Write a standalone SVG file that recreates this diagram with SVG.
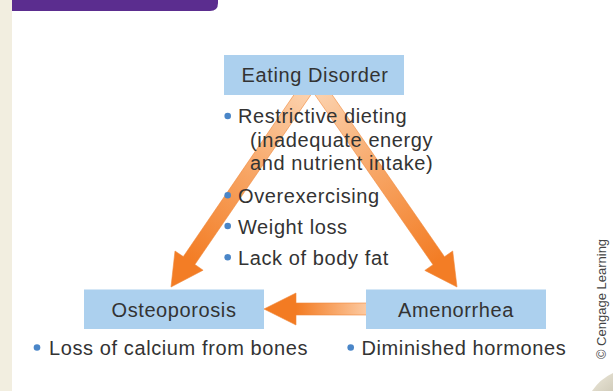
<svg xmlns="http://www.w3.org/2000/svg" width="613" height="391" viewBox="0 0 613 391">
  <style>
    .box { fill: #acd0ee; }
    .lbl { font-family: "Liberation Sans", Arial, sans-serif; font-size: 20px; letter-spacing: 0.6px; fill: #333333; }
    .mid { text-anchor: middle; }
    .dot { fill: #4a86c8; }
    .arrow { stroke: #f0883a; stroke-width: 0.6; }
  </style>
  <defs>
    <linearGradient id="gL" gradientUnits="userSpaceOnUse" x1="305" y1="90" x2="190" y2="260">
      <stop offset="0" stop-color="#fcd2ae"/>
      <stop offset="0.5" stop-color="#f7a463"/>
      <stop offset="1" stop-color="#f37d25"/>
    </linearGradient>
    <linearGradient id="gR" gradientUnits="userSpaceOnUse" x1="320" y1="90" x2="438" y2="260">
      <stop offset="0" stop-color="#fcd2ae"/>
      <stop offset="0.5" stop-color="#f7a463"/>
      <stop offset="1" stop-color="#f37d25"/>
    </linearGradient>
    <linearGradient id="gH" gradientUnits="userSpaceOnUse" x1="366" y1="0" x2="296" y2="0">
      <stop offset="0" stop-color="#fcc9a0"/>
      <stop offset="1" stop-color="#f37b22"/>
    </linearGradient>
    <linearGradient id="curl" x1="0" y1="0" x2="1" y2="1">
      <stop offset="0" stop-color="#ece8da"/>
      <stop offset="1" stop-color="#d2cdbb"/>
    </linearGradient>
  </defs>

  <rect x="0" y="0" width="613" height="391" fill="#ffffff"/>
  <rect x="0" y="0" width="12" height="391" fill="#f2eee0"/>
  <path d="M12 0 H218 V3 Q218 11 210 11 H12 Z" fill="#5b2d8f"/>
  <path d="M592 391 Q600 379 613 373 V391 Z" fill="url(#curl)"/>

  <g id="connectors">
    <polygon class="arrow" fill="url(#gL)" points="299.9,86.1 311.5,93.9 194.9,264.5 203.1,270.2 171,287 175.0,251.0 183.3,256.6"/>
    <polygon class="arrow" fill="url(#gR)" points="326.0,86.0 314.4,94.0 433.0,264.7 424.8,270.4 457,287 452.7,251.0 444.5,256.7"/>
    <polygon class="arrow" fill="url(#gH)" points="372,303 296,303 296,293 264,309 296,325 296,315 372,315"/>
  </g>

  <g id="eating-disorder">
    <rect class="box" x="224" y="55" width="180" height="40"/>
    <text class="lbl mid" x="315" y="82">Eating Disorder</text>
  </g>

  <g id="causes">
    <circle class="dot" cx="227.7" cy="116" r="3.3"/>
    <text class="lbl" x="238" y="123">Restrictive dieting</text>
    <text class="lbl" x="250" y="146.5">(inadequate energy</text>
    <text class="lbl" x="250" y="169.5">and nutrient intake)</text>
    <circle class="dot" cx="227.7" cy="195.3" r="3.3"/>
    <text class="lbl" x="238" y="202.5">Overexercising</text>
    <circle class="dot" cx="227.7" cy="226" r="3.3"/>
    <text class="lbl" x="238" y="233.5">Weight loss</text>
    <circle class="dot" cx="227.7" cy="257.3" r="3.3"/>
    <text class="lbl" x="238" y="264.5">Lack of body fat</text>
  </g>

  <g id="osteoporosis">
    <rect class="box" x="84" y="289.5" width="180" height="39.5"/>
    <text class="lbl mid" x="174" y="317">Osteoporosis</text>
    <circle class="dot" cx="37" cy="347.5" r="3.3"/>
    <text class="lbl" x="49" y="354.5">Loss of calcium from bones</text>
  </g>

  <g id="amenorrhea">
    <rect class="box" x="366" y="289.5" width="180" height="39.5"/>
    <text class="lbl mid" x="456" y="317">Amenorrhea</text>
    <circle class="dot" cx="350.7" cy="347.5" r="3.3"/>
    <text class="lbl" x="361.5" y="354.5">Diminished hormones</text>
  </g>

  <text x="0" y="0" transform="translate(605.5 299) rotate(-90)" text-anchor="middle" font-family="'Liberation Sans', Arial, sans-serif" font-size="13" fill="#444444">© Cengage Learning</text>
</svg>
